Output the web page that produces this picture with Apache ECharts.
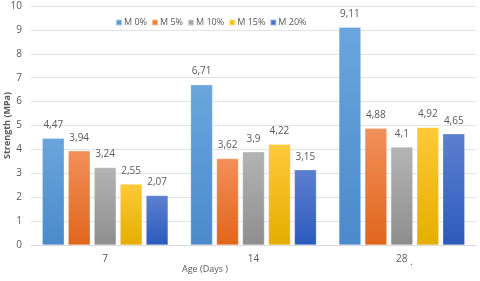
<!DOCTYPE html>
<html><head><meta charset="utf-8">
<script src="https://cdn.jsdelivr.net/npm/echarts@6/dist/echarts.min.js"></script>
<style>html,body{margin:0;padding:0;background:#fff}#c{width:480px;height:281px}</style>
</head><body><div id="c"></div>
<script>
const categories = ['7', '14', '28'];
const seriesNames = ['M 0%', 'M 5%', 'M 10%', 'M 15%', 'M 20%'];
const m0 = [4.47, 6.71, 9.11];
const m5 = [3.94, 3.62, 4.88];
const m10 = [3.24, 3.9, 4.1];
const m15 = [2.55, 4.22, 4.92];
const m20 = [2.07, 3.15, 4.65];
const yTicks = [0, 1, 2, 3, 4, 5, 6, 7, 8, 9, 10];

const values = [m0, m5, m10, m15, m20];
const colors = [
  ['#6AA6DD', '#4A8ACB'],
  ['#F2905A', '#E0651C'],
  ['#B4B4B4', '#8E8E8E'],
  ['#FFC93A', '#E4AE00'],
  ['#5C80CF', '#2C5ABD']
];
const legendColors = ['#5B9BD5', '#ED7D31', '#A5A5A5', '#FFC000', '#4472C4'];

const chart = echarts.init(document.getElementById('c'), null, {renderer: 'canvas'});
chart.setOption({
  animation: false,
  textStyle: {fontFamily: 'Open Sans'},
  legend: {
    top: 13, left: 110,
    itemWidth: 6, itemHeight: 6, itemGap: 4,
    icon: 'rect',
    textStyle: {fontSize: 9, color: '#595959', padding: [0, 0, 0, -3]},
    data: seriesNames.map((n, i) => ({name: n, itemStyle: {color: legendColors[i]}}))
  },
  grid: {left: 31, right: 4, top: 6, bottom: 36, outerBoundsMode: 'none', containLabel: false},
  xAxis: {
    type: 'category', data: categories,
    name: 'Age (Days )', nameLocation: 'middle', nameGap: 20, nameMoveOverlap: false,
    nameTextStyle: {fontSize: 9, color: '#595959', padding: [0, 97, 0, 0]},
    axisLine: {lineStyle: {color: '#D9D9D9'}},
    axisTick: {show: false},
    axisLabel: {fontSize: 10, color: '#595959', margin: 9}
  },
  yAxis: {
    type: 'value', min: 0, max: 10, interval: 1,
    name: 'Strength (MPa)', nameLocation: 'middle', nameGap: 19, nameMoveOverlap: false,
    nameTextStyle: {fontSize: 9, fontWeight: 'bold', color: '#595959'},
    axisLine: {show: false}, axisTick: {show: false},
    axisLabel: {fontSize: 10, color: '#595959', margin: 9,
      formatter: v => yTicks.includes(v) ? String(v) : ''},
    splitLine: {lineStyle: {color: '#E3E3E3'}}
  },
  series: values.map((arr, i) => ({
    name: seriesNames[i], type: 'bar', data: arr,
    barWidth: 22, barGap: '18%',
    itemStyle: {
      color: new echarts.graphic.LinearGradient(0, 0, 0, 1, [
        {offset: 0, color: colors[i][0]}, {offset: 1, color: colors[i][1]}
      ]),
      borderColor: 'rgba(255,255,255,0.5)', borderWidth: 0.5
    },
    label: {
      show: true, position: 'top', distance: 8,
      fontSize: 10, color: '#595959',
      formatter: p => String(p.value).replace('.', ',')
    }
  })),
  graphic: [{type: 'text', left: 410, top: 257, style: {text: '.', fontSize: 10, fill: '#595959'}}]
});
</script></body></html>
